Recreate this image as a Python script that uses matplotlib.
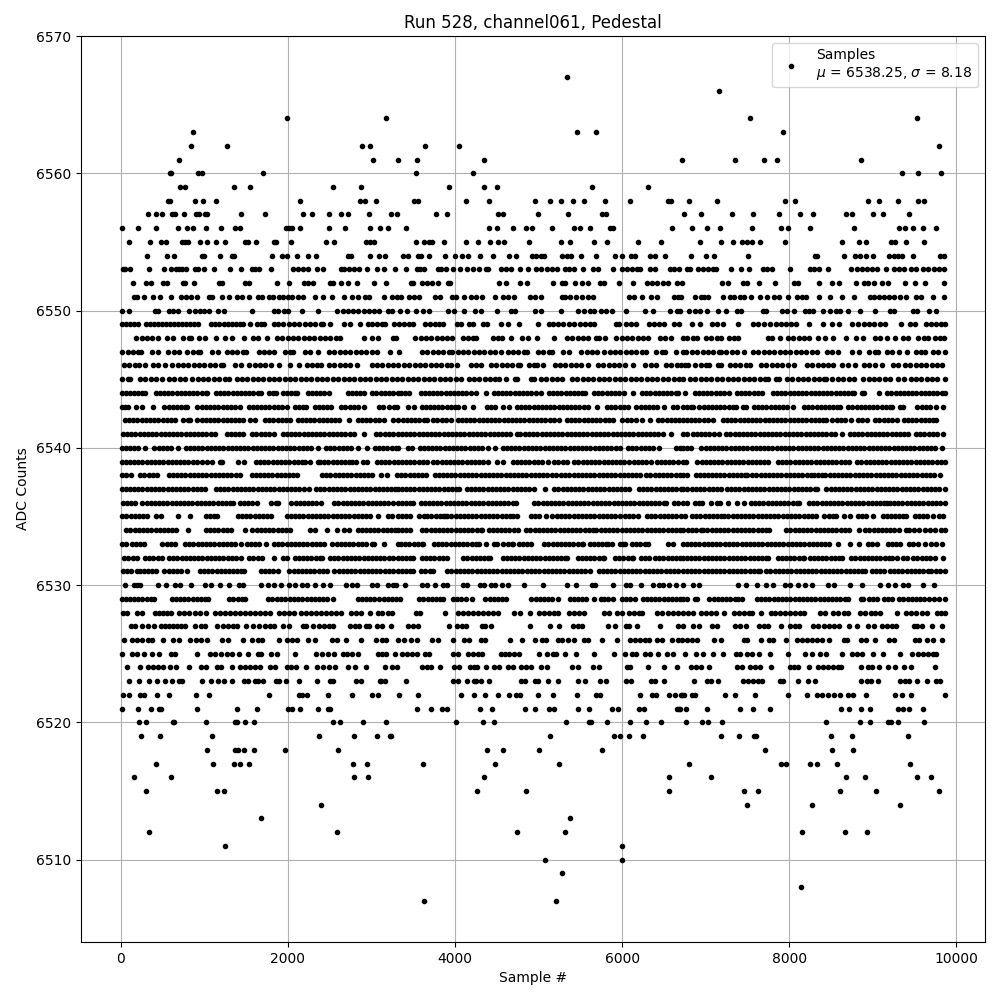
import matplotlib
matplotlib.use('Agg')
import matplotlib.pyplot as plt

# sample numbers, one list per ADC code.
# Codes 6507-6528 and 6549-6567 are mostly single readable dots.
# Codes 6529-6548 are almost solid rows, single samples can't be told apart there:
# those lists are hand estimates, about one value per 50-64 samples along each visible run.
s6567 = [5335]
s6566 = [7165]
s6564 = [1993, 3175, 7525, 9529]
s6563 = [865, 5455, 5683, 7921]
s6562 = [841, 1273, 2881, 2985, 3643, 4051, 9793]
s6561 = [697, 3013, 3319, 3547, 4351, 6721, 7345, 7693, 7849, 8857]
s6560 = [589, 605, 925, 973, 1705, 3535, 4219, 9349, 9541, 9817]
s6559 = [709, 773, 1357, 1549, 2545, 2869, 3931, 4351, 4507, 5635, 6307]
s6558 = [565, 589, 889, 989, 1141, 2149, 2857, 2917, 3049, 3511, 3559, 4135, 4411, 4951, 5131, 5263, 5407, 5539,
         5791, 6091, 6547, 6583, 6805, 7141, 7945, 8065, 8941, 9073, 9301, 9541, 9613]
s6557 = [325, 421, 493, 613, 645, 757, 901, 937, 1009, 1033, 1441, 1729, 2185, 2293, 2497, 2629, 2713, 2965, 3235,
         3307, 3775, 3907, 4519, 4579, 4987, 5347, 5755, 5803, 6745, 6949, 7309, 7561, 7873, 8125, 8281, 8677, 8749,
         9001, 9121, 9433]
s6556 = [13, 205, 421, 685, 793, 865, 1021, 1201, 1369, 1429, 1981, 2017, 2053, 2149, 2497, 2677, 2977, 3097, 3199,
         3415, 4411, 4507, 4699, 4855, 4927, 5155, 5419, 5491, 5611, 5851, 5887, 6595, 6841, 7021, 7177, 7549, 7897,
         7981, 8245, 8773, 9313, 9385, 9481, 9601, 9757]
s6555 = [97, 349, 481, 541, 733, 769, 805, 949, 1033, 1141, 1249, 1489, 1525, 1621, 1837, 1861, 2041, 2461, 2557,
         2929, 2977, 3025, 3535, 3631, 3691, 3727, 3871, 4135, 4279, 4423, 4519, 4591, 4891, 5263, 5371, 5659, 5815,
         6187, 6463, 6937, 7189, 7321, 7429, 7489, 7549, 7645, 7945, 8629, 8833, 8917, 9217, 9265, 9397, 9613]
s6554 = [313, 553, 637, 973, 997, 1189, 1333, 1357, 1813, 1933, 1993, 2113, 2245, 2341, 2713, 2749, 2977, 3085, 3163,
         3379, 3439, 3559, 3595, 3691, 3883, 4003, 4087, 4159, 4303, 4459, 4651, 4735, 4927, 4963, 5023, 5059, 5275,
         5335, 5383, 5503, 5683, 5911, 5995, 6103, 6151, 6331, 6391, 6511, 6829, 7009, 7105, 7501, 8305, 8329, 8653,
         8785, 8845, 8917, 9001, 9193, 9253, 9301, 9349, 9481, 9805, 9853]
s6553 = [25, 49, 109, 337, 517, 601, 661, 697, 733, 781, 889, 925, 997, 1113, 1309, 1441, 1573, 1609, 1657, 1801,
         2065, 2125, 2185, 2245, 2353, 2425, 2629, 2665, 2725, 2785, 2845, 2941, 3061, 3151, 3283, 3415, 3547, 3583,
         3631, 3799, 3835, 3895, 3979, 4063, 4147, 4219, 4291, 4375, 4399, 4555, 4615, 4675, 4783, 4879, 4963, 5023,
         5095, 5155, 5215, 5311, 5359, 5419, 5527, 5647, 5707, 5887, 5995, 6055, 6115, 6175, 6211, 6331, 6391, 6571,
         6619, 6679, 6781, 6817, 6913, 6973, 7033, 7093, 7129, 7297, 7417, 7513, 7681, 7729, 7789, 8005, 8245, 8293,
         8353, 8461, 8737, 8809, 8869, 8929, 8989, 9049, 9157, 9253, 9313, 9373, 9457, 9517, 9601, 9661, 9733, 9793,
         9853]
s6552 = [145, 301, 361, 505, 553, 745, 769, 877, 1177, 1213, 1489, 1537, 1873, 2017, 2197, 2245, 2305, 2509, 2545,
         2629, 2713, 2821, 3025, 3175, 3475, 3499, 3607, 3667, 3727, 3799, 3919, 3943, 4531, 4615, 4783, 4867, 5167,
         5275, 5311, 5431, 5515, 5587, 5731, 5779, 5959, 6127, 6295, 6355, 6415, 6487, 6547, 6655, 6721, 7201, 7261,
         7441, 7489, 7633, 7825, 8053, 8101, 8353, 8509, 8593, 8797, 8893, 8941, 9013, 9109, 9181, 9385, 9505, 9625,
         9853]
s6551 = [157, 193, 277, 385, 469, 601, 721, 781, 841, 913, 1057, 1093, 1213, 1297, 1393, 1453, 1537, 1645, 1693, 1777,
         1825, 1897, 1945, 2005, 2053, 2125, 2185, 2329, 2425, 2533, 2665, 2761, 2833, 2917, 2965, 3151, 3247, 3307,
         3355, 3451, 3511, 3571, 3763, 3823, 3967, 4015, 4111, 4195, 4255, 4327, 4483, 4579, 4639, 4711, 4903, 4951,
         5023, 5275, 5311, 5371, 5443, 5515, 5587, 5647, 6079, 6139, 6235, 6343, 6415, 6619, 6667, 6709, 6877, 6949,
         6985, 7033, 7213, 7285, 7333, 7405, 7453, 7537, 7645, 7729, 7813, 7873, 7981, 8089, 8149, 8197, 8353, 8485,
         8629, 8773, 8965, 9013, 9073, 9133, 9193, 9253, 9325, 9397, 9517, 9577, 9721, 9853]
s6550 = [13, 97, 409, 445, 577, 625, 685, 817, 889, 949, 997, 1057, 1165, 1237, 1573, 1837, 1885, 1957, 2005, 2173,
         2365, 2593, 2653, 2713, 2773, 2833, 2905, 2965, 3025, 3085, 3199, 3247, 3343, 3427, 3535, 3619, 3691, 3919,
         3991, 4111, 4243, 4315, 4507, 4675, 4723, 4951, 5023, 5263, 5467, 5539, 5611, 5659, 5743, 5803, 5875, 6043,
         6271, 6367, 6571, 6655, 6693, 6805, 6877, 6937, 7021, 7153, 7249, 7369, 7417, 7681, 7717, 7909, 7969, 8053,
         8185, 8233, 8281, 8401, 8485, 8557, 8605, 8701, 8845, 9025, 9205, 9253, 9481, 9529, 9673, 9757]
s6549 = [9, 57, 105, 153, 201, 297, 345, 393, 441, 489, 537, 585, 633, 681, 729, 777, 825, 873, 921, 1073, 1129, 1177,
         1237, 1285, 1333, 1381, 1429, 1465, 1545, 1633, 1681, 1713, 1833, 1881, 1945, 2009, 2073, 2137, 2201, 2265,
         2329, 2393, 2425, 2505, 2665, 2737, 2865, 2957, 3001, 3065, 3129, 3157, 3271, 3331, 3391, 3451, 3499, 3643,
         3703, 3763, 3811, 3859, 4027, 4075, 4171, 4219, 4339, 4387, 4555, 4639, 4771, 4987, 5119, 5167, 5227, 5287,
         5359, 5419, 5491, 5551, 5611, 5659, 5923, 5959, 6043, 6103, 6163, 6319, 6379, 6439, 6499, 6619, 6679, 6841,
         6937, 7081, 7141, 7213, 7381, 7561, 7621, 7693, 7765, 7837, 7897, 7957, 8017, 8077, 8233, 8401, 8509, 8593,
         8749, 8821, 8893, 8953, 9013, 9085, 9145, 9337, 9445, 9505, 9637, 9697, 9757, 9817, 9865]
s6548 = [185, 249, 313, 377, 441, 557, 625, 749, 813, 845, 937, 1013, 1137, 1245, 1333, 1469, 1585, 1641, 1749, 1869,
         1933, 1997, 2061, 2125, 2189, 2253, 2317, 2381, 2445, 2509, 2573, 2625, 2905, 3009, 3081, 3257, 3299, 3523,
         3587, 3651, 3715, 3779, 3843, 3899, 3967, 4091, 4155, 4219, 4247, 4451, 4515, 4567, 4675, 4803, 4875, 4983,
         5179, 5339, 5403, 5467, 5531, 5587, 5691, 5727, 5791, 5931, 5995, 6059, 6123, 6187, 6251, 6315, 6451, 6515,
         6579, 6725, 6773, 6853, 6901, 7005, 7069, 7133, 7181, 7277, 7341, 7389, 7745, 7789, 7893, 7985, 8049, 8113,
         8177, 8241, 8345, 8429, 8529, 8677, 8797, 8881, 9025, 9081, 9173, 9261, 9365, 9421, 9545, 9609, 9661, 9745,
         9809, 9853]
s6547 = [17, 81, 145, 209, 245, 377, 445, 569, 633, 693, 797, 861, 925, 953, 1089, 1161, 1265, 1329, 1393, 1457, 1493,
         1649, 1713, 1777, 1833, 1961, 2025, 2065, 2209, 2265, 2365, 2489, 2553, 2617, 2681, 2745, 2809, 2873, 2937,
         3001, 3065, 3217, 3331, 3603, 3667, 3731, 3795, 3859, 3923, 3967, 4031, 4095, 4159, 4223, 4287, 4351, 4415,
         4479, 4547, 4631, 4695, 4759, 4823, 4859, 4991, 5055, 5119, 5155, 5291, 5367, 5511, 5575, 5639, 5703, 5787,
         5851, 5915, 5979, 6043, 6107, 6171, 6239, 6287, 6411, 6475, 6507, 6643, 6725, 6761, 6837, 6901, 6965, 7029,
         7093, 7157, 7181, 7245, 7309, 7373, 7453, 7565, 7629, 7693, 7757, 7821, 7885, 7949, 8013, 8077, 8141, 8205,
         8269, 8333, 8453, 8517, 8581, 8749, 8833, 8957, 9021, 9061, 9165, 9229, 9317, 9413, 9517, 9581, 9629, 9717,
         9781, 9869]
s6546 = [37, 101, 165, 213, 293, 385, 449, 525, 617, 681, 745, 809, 873, 937, 1001, 1065, 1129, 1193, 1225, 1369, 1441,
         1537, 1601, 1665, 1729, 1793, 1897, 2025, 2129, 2225, 2289, 2353, 2401, 2489, 2553, 2617, 2681, 2745, 2825,
         3001, 3065, 3129, 3193, 3257, 3323, 3387, 3451, 3515, 3579, 3643, 3707, 3771, 3835, 3899, 3947, 4019, 4191,
         4255, 4315, 4431, 4495, 4559, 4623, 4687, 4751, 4779, 4883, 4947, 4979, 5047, 5191, 5255, 5319, 5383, 5447,
         5511, 5587, 5711, 5775, 5839, 5903, 5967, 6031, 6127, 6279, 6343, 6407, 6523, 6587, 6651, 6705, 6757, 6789,
         6877, 6941, 7005, 7037, 7149, 7189, 7285, 7349, 7413, 7477, 7525, 7661, 7725, 7789, 7853, 7917, 7981, 8061,
         8213, 8277, 8341, 8405, 8469, 8525, 8637, 8701, 8789, 8893, 8957, 9021, 9113, 9237, 9301, 9385, 9449, 9513,
         9577, 9641, 9705, 9769, 9829]
s6545 = [17, 81, 113, 229, 293, 357, 421, 493, 577, 641, 705, 773, 857, 921, 985, 1049, 1113, 1177, 1241, 1293, 1385,
         1449, 1513, 1577, 1641, 1705, 1769, 1833, 1897, 1961, 2025, 2089, 2153, 2217, 2281, 2345, 2409, 2473, 2537,
         2601, 2665, 2729, 2793, 2857, 2921, 2985, 3049, 3113, 3177, 3241, 3305, 3369, 3433, 3497, 3561, 3625, 3689,
         3753, 3817, 3881, 3945, 4009, 4067, 4163, 4227, 4291, 4355, 4419, 4483, 4527, 4615, 4715, 4739, 4911, 4939,
         5027, 5091, 5155, 5219, 5283, 5399, 5463, 5527, 5591, 5655, 5719, 5783, 5847, 5911, 5975, 6039, 6103, 6167,
         6231, 6295, 6359, 6423, 6487, 6551, 6615, 6679, 6725, 6813, 6877, 6941, 7005, 7069, 7133, 7197, 7261, 7325,
         7389, 7453, 7517, 7581, 7645, 7709, 7749, 7837, 7881, 7973, 8037, 8101, 8165, 8229, 8293, 8357, 8421, 8441,
         8513, 8585, 8649, 8713, 8773, 8885, 8949, 9013, 9077, 9141, 9205, 9301, 9377, 9453, 9517, 9581, 9645, 9709,
         9773, 9861]
s6544 = [9, 59, 109, 159, 209, 259, 285, 417, 467, 517, 567, 617, 667, 717, 767, 817, 867, 917, 967, 1017, 1033, 1137,
         1187, 1237, 1287, 1337, 1387, 1437, 1487, 1537, 1587, 1637, 1681, 1777, 1827, 1853, 1937, 1987, 2037, 2087,
         2113, 2237, 2287, 2337, 2387, 2437, 2493, 2717, 2767, 2817, 2867, 2913, 3009, 3059, 3109, 3159, 3209, 3259,
         3313, 3355, 3405, 3447, 3587, 3637, 3687, 3737, 3787, 3837, 3887, 3937, 3987, 4037, 4087, 4137, 4187, 4247,
         4367, 4463, 4513, 4563, 4613, 4663, 4713, 4763, 4813, 4863, 4913, 4963, 5027, 5123, 5173, 5223, 5273, 5323,
         5373, 5423, 5473, 5523, 5555, 5663, 5713, 5763, 5813, 5863, 5913, 5963, 6019, 6127, 6239, 6289, 6339, 6389,
         6439, 6489, 6539, 6589, 6639, 6667, 6757, 6869, 6919, 6969, 7019, 7069, 7119, 7169, 7219, 7277, 7373, 7423,
         7473, 7523, 7573, 7623, 7669, 7805, 7855, 7905, 7955, 8005, 8055, 8105, 8155, 8205, 8255, 8305, 8355, 8405,
         8455, 8505, 8555, 8605, 8655, 8705, 8755, 8781, 8865, 8893, 9073, 9173, 9223, 9273, 9323, 9373, 9423, 9473,
         9523, 9573, 9623, 9673, 9723, 9773, 9823, 9861]
s6543 = [9, 49, 81, 177, 253, 385, 521, 571, 621, 671, 721, 771, 793, 917, 967, 1017, 1067, 1117, 1167, 1217, 1267,
         1317, 1367, 1425, 1529, 1579, 1629, 1679, 1729, 1779, 1829, 1879, 1929, 1993, 2085, 2135, 2185, 2213, 2321,
         2371, 2421, 2471, 2521, 2637, 2687, 2737, 2787, 2837, 2913, 3089, 3139, 3213, 3265, 3303, 3435, 3507, 3599,
         3649, 3699, 3749, 3799, 3849, 3899, 3949, 3999, 4035, 4111, 4211, 4379, 4429, 4475, 4571, 4643, 4739, 4789,
         4839, 4889, 4939, 4989, 5039, 5089, 5139, 5189, 5239, 5289, 5339, 5389, 5439, 5489, 5539, 5587, 5703, 5819,
         5869, 5919, 5969, 6019, 6075, 6171, 6221, 6271, 6321, 6371, 6421, 6499, 6611, 6661, 6725, 6775, 6825, 6853,
         6925, 6975, 7025, 7075, 7125, 7175, 7225, 7275, 7325, 7361, 7445, 7477, 7577, 7627, 7677, 7727, 7777, 7827,
         7877, 7927, 7977, 8041, 8177, 8227, 8277, 8327, 8377, 8427, 8477, 8527, 8577, 8613, 8705, 8755, 8805, 8855,
         8905, 8955, 9005, 9055, 9105, 9155, 9205, 9233, 9325, 9365, 9533, 9583, 9633, 9683, 9761, 9841]
s6542 = [49, 99, 149, 199, 249, 299, 349, 399, 449, 499, 549, 599, 653, 749, 799, 833, 917, 967, 1017, 1067, 1117, 1167,
         1217, 1267, 1317, 1367, 1417, 1467, 1541, 1609, 1725, 1775, 1825, 1875, 1925, 1975, 2025, 2117, 2167, 2217,
         2267, 2317, 2367, 2417, 2467, 2517, 2567, 2613, 2725, 2837, 2887, 2937, 2987, 3037, 3087, 3153, 3257, 3313,
         3373, 3423, 3473, 3523, 3573, 3623, 3659, 3739, 3789, 3839, 3889, 3955, 4031, 4081, 4131, 4181, 4231, 4281,
         4331, 4381, 4431, 4481, 4531, 4581, 4631, 4681, 4731, 4781, 4831, 4881, 4931, 4981, 5031, 5081, 5131, 5181,
         5247, 5339, 5389, 5439, 5489, 5539, 5589, 5639, 5689, 5739, 5789, 5839, 5887, 6003, 6053, 6103, 6167, 6239,
         6339, 6431, 6481, 6531, 6581, 6631, 6681, 6725, 6775, 6825, 6875, 6925, 6975, 7025, 7093, 7205, 7255, 7305,
         7355, 7405, 7455, 7505, 7555, 7605, 7655, 7705, 7755, 7805, 7855, 7905, 7955, 8005, 8055, 8105, 8155, 8205,
         8255, 8305, 8355, 8405, 8441, 8517, 8567, 8617, 8667, 8741, 8825, 8875, 8929, 9029, 9079, 9129, 9179, 9229,
         9293, 9373, 9423, 9473, 9523, 9573, 9623, 9673, 9723, 9761]
s6541 = [25, 75, 125, 175, 225, 275, 325, 375, 425, 475, 525, 575, 625, 675, 725, 775, 825, 875, 925, 975, 1025, 1075,
         1125, 1265, 1315, 1365, 1415, 1465, 1573, 1623, 1673, 1723, 1773, 1833, 1937, 1987, 2037, 2087, 2137, 2187,
         2237, 2287, 2337, 2387, 2437, 2487, 2537, 2587, 2637, 2687, 2737, 2787, 2913, 3057, 3107, 3157, 3207, 3257,
         3313, 3363, 3413, 3463, 3513, 3563, 3613, 3663, 3713, 3763, 3813, 3863, 3913, 3963, 4013, 4063, 4113, 4163,
         4213, 4263, 4313, 4363, 4413, 4463, 4513, 4563, 4613, 4653, 4739, 4779, 4835, 4885, 4935, 4985, 5035, 5085,
         5135, 5185, 5235, 5285, 5335, 5385, 5435, 5485, 5535, 5585, 5635, 5685, 5735, 5785, 5835, 5885, 5935, 5985,
         6035, 6085, 6135, 6185, 6235, 6285, 6335, 6385, 6435, 6485, 6587, 6725, 6773, 6845, 6895, 6945, 6995, 7045,
         7101, 7165, 7245, 7295, 7345, 7395, 7445, 7495, 7545, 7595, 7645, 7695, 7745, 7795, 7845, 7895, 7945, 7995,
         8045, 8095, 8145, 8195, 8245, 8295, 8345, 8395, 8445, 8495, 8545, 8629, 8725, 8775, 8825, 8875, 8925, 8975,
         9025, 9075, 9125, 9175, 9225, 9275, 9325, 9375, 9421, 9517, 9567, 9617, 9667, 9717, 9767, 9845]
s6540 = [9, 59, 109, 159, 209, 285, 401, 451, 501, 551, 601, 681, 777, 827, 877, 927, 977, 1027, 1077, 1127, 1177, 1227,
         1277, 1327, 1377, 1427, 1477, 1527, 1577, 1627, 1677, 1727, 1777, 1827, 1877, 1927, 1977, 2027, 2077, 2127,
         2177, 2227, 2277, 2361, 2457, 2507, 2557, 2607, 2657, 2707, 2757, 2841, 2945, 3041, 3091, 3141, 3191, 3241,
         3291, 3313, 3431, 3481, 3575, 3625, 3675, 3725, 3775, 3825, 3875, 3925, 3975, 4025, 4075, 4125, 4175, 4225,
         4275, 4325, 4395, 4475, 4571, 4621, 4671, 4721, 4771, 4821, 4871, 4921, 4971, 5021, 5071, 5121, 5171, 5221,
         5271, 5321, 5371, 5421, 5471, 5521, 5571, 5621, 5671, 5721, 5771, 5821, 5871, 5921, 5975, 6071, 6121, 6171,
         6221, 6271, 6321, 6371, 6443, 6643, 6693, 6725, 6775, 6825, 6949, 6999, 7049, 7099, 7149, 7199, 7249, 7299,
         7349, 7399, 7449, 7499, 7549, 7599, 7649, 7699, 7749, 7799, 7849, 7899, 7949, 7999, 8049, 8099, 8149, 8199,
         8249, 8299, 8349, 8399, 8449, 8499, 8549, 8599, 8649, 8699, 8749, 8799, 8849, 8899, 8949, 8999, 9049, 9099,
         9149, 9199, 9249, 9299, 9349, 9399, 9449, 9499, 9549, 9599, 9649, 9699, 9749, 9829]
s6539 = [9, 59, 109, 159, 209, 259, 309, 359, 409, 459, 509, 559, 609, 659, 709, 759, 809, 859, 909, 969, 1029, 1089,
         1185, 1213, 1397, 1469, 1617, 1667, 1717, 1767, 1817, 1867, 1917, 1967, 2017, 2067, 2117, 2167, 2201, 2265,
         2355, 2385, 2435, 2485, 2535, 2585, 2635, 2685, 2735, 2761, 2817, 2895, 2945, 3065, 3115, 3165, 3215, 3265,
         3313, 3363, 3413, 3463, 3513, 3563, 3613, 3659, 3739, 3789, 3839, 3889, 3939, 3989, 4039, 4089, 4139, 4189,
         4239, 4289, 4339, 4389, 4507, 4571, 4691, 4741, 4791, 4841, 4891, 4941, 4991, 5041, 5107, 5187, 5237, 5287,
         5337, 5427, 5477, 5527, 5577, 5627, 5677, 5727, 5777, 5827, 5877, 5927, 5977, 6027, 6077, 6147, 6187, 6237,
         6287, 6345, 6413, 6463, 6513, 6563, 6613, 6663, 6725, 6769, 6901, 6951, 7001, 7049, 7101, 7151, 7201, 7251,
         7301, 7351, 7401, 7451, 7501, 7551, 7601, 7651, 7701, 7749, 7865, 7915, 7965, 8015, 8065, 8115, 8165, 8215,
         8265, 8315, 8365, 8415, 8465, 8515, 8565, 8615, 8665, 8717, 8813, 8863, 8913, 8963, 9013, 9063, 9113, 9163,
         9213, 9263, 9313, 9363, 9413, 9463, 9513, 9563, 9613, 9663, 9713, 9763, 9813, 9861]
s6538 = [17, 67, 117, 233, 283, 333, 383, 433, 573, 623, 673, 723, 773, 823, 873, 923, 973, 1023, 1073, 1123, 1173,
         1223, 1273, 1323, 1373, 1429, 1565, 1615, 1665, 1715, 1765, 1815, 1865, 1915, 1965, 2015, 2065, 2113, 2409,
         2459, 2509, 2559, 2609, 2659, 2709, 2759, 2809, 2859, 2909, 2959, 3009, 3113, 3185, 3305, 3355, 3405, 3455,
         3505, 3555, 3605, 3651, 3755, 3805, 3855, 3905, 3955, 4005, 4055, 4105, 4155, 4205, 4255, 4305, 4355, 4405,
         4455, 4505, 4555, 4605, 4655, 4705, 4755, 4805, 4855, 4905, 4955, 5005, 5055, 5105, 5155, 5205, 5269, 5319,
         5369, 5419, 5469, 5519, 5569, 5619, 5669, 5719, 5769, 5819, 5869, 5919, 5969, 6019, 6069, 6119, 6169, 6219,
         6289, 6339, 6389, 6439, 6489, 6539, 6589, 6639, 6689, 6725, 6771, 6885, 6935, 6985, 7029, 7077, 7121, 7173,
         7223, 7273, 7323, 7373, 7423, 7473, 7493, 7557, 7607, 7657, 7707, 7757, 7807, 7857, 7907, 7957, 8007, 8057,
         8107, 8157, 8207, 8257, 8301, 8341, 8389, 8433, 8483, 8533, 8583, 8633, 8683, 8733, 8783, 8833, 8883, 8933,
         8983, 9033, 9083, 9133, 9183, 9233, 9283, 9333, 9383, 9433, 9483, 9533, 9583, 9633, 9683, 9733, 9805]
s6537 = [9, 59, 109, 159, 209, 259, 309, 359, 409, 459, 509, 559, 609, 659, 709, 759, 809, 859, 909, 959, 1009, 1137,
         1187, 1237, 1287, 1337, 1387, 1437, 1487, 1537, 1587, 1637, 1687, 1737, 1787, 1837, 1887, 1937, 1987, 2037,
         2087, 2137, 2187, 2253, 2337, 2387, 2437, 2487, 2537, 2587, 2637, 2687, 2737, 2787, 2837, 2887, 2937, 2987,
         3037, 3087, 3137, 3187, 3237, 3287, 3313, 3363, 3413, 3463, 3513, 3563, 3613, 3663, 3713, 3763, 3813, 3863,
         3913, 3963, 4013, 4047, 4139, 4189, 4239, 4289, 4339, 4389, 4439, 4489, 4539, 4589, 4639, 4689, 4739, 4789,
         4839, 4889, 4945, 5081, 5187, 5237, 5287, 5337, 5387, 5437, 5487, 5537, 5587, 5637, 5687, 5737, 5787, 5837,
         5887, 5937, 5987, 6037, 6087, 6200, 6250, 6300, 6350, 6400, 6450, 6500, 6550, 6600, 6650, 6700, 6725, 6775,
         6837, 6885, 6935, 6985, 7035, 7085, 7135, 7185, 7253, 7303, 7353, 7403, 7453, 7503, 7553, 7603, 7653, 7703,
         7753, 7803, 7853, 7903, 7953, 8003, 8053, 8103, 8153, 8203, 8253, 8303, 8333, 8445, 8495, 8545, 8595, 8645,
         8695, 8745, 8795, 8845, 8895, 8945, 8995, 9045, 9095, 9145, 9195, 9245, 9295, 9345, 9395, 9445, 9495, 9545,
         9595, 9645, 9695, 9745, 9795, 9861]
s6536 = [25, 75, 125, 169, 257, 307, 357, 407, 457, 507, 557, 607, 657, 707, 757, 807, 857, 907, 957, 1007, 1057, 1107,
         1157, 1207, 1257, 1307, 1345, 1425, 1475, 1525, 1575, 1625, 1793, 1861, 1881, 2041, 2091, 2141, 2191, 2241,
         2291, 2341, 2391, 2553, 2603, 2653, 2703, 2753, 2803, 2853, 2903, 2953, 3003, 3053, 3103, 3153, 3203, 3253,
         3313, 3363, 3413, 3463, 3499, 3587, 3637, 3687, 3737, 3787, 3837, 3887, 3937, 3987, 4037, 4087, 4137, 4187,
         4239, 4289, 4339, 4389, 4439, 4489, 4539, 4589, 4639, 4689, 4731, 4947, 4997, 5047, 5097, 5147, 5197, 5247,
         5297, 5347, 5397, 5447, 5497, 5547, 5597, 5647, 5697, 5747, 5797, 5847, 5897, 5947, 5997, 6047, 6097, 6147,
         6197, 6247, 6297, 6347, 6397, 6447, 6497, 6527, 6623, 6673, 6725, 6773, 6877, 6921, 6957, 7069, 7133, 7173,
         7269, 7373, 7461, 7541, 7591, 7641, 7691, 7741, 7791, 7841, 7891, 7941, 7991, 8041, 8091, 8117, 8237, 8287,
         8337, 8387, 8437, 8487, 8537, 8587, 8637, 8687, 8737, 8787, 8837, 8887, 8937, 8987, 9037, 9087, 9137, 9173,
         9205, 9255, 9305, 9355, 9405, 9455, 9505, 9555, 9605, 9655, 9705, 9755, 9805, 9861]
s6535 = [17, 67, 117, 167, 217, 267, 317, 417, 481, 689, 833, 1017, 1067, 1117, 1145, 1401, 1451, 1501, 1551, 1601,
         1651, 1701, 1751, 1801, 1985, 2035, 2085, 2135, 2185, 2235, 2285, 2335, 2385, 2435, 2485, 2535, 2585, 2635,
         2685, 2735, 2785, 2835, 2885, 2935, 2985, 3073, 3193, 3243, 3313, 3363, 3413, 3463, 3571, 3627, 3667, 3717,
         3767, 3819, 3859, 3881, 3907, 3957, 4007, 4057, 4107, 4157, 4207, 4255, 4307, 4357, 4407, 4457, 4507, 4557,
         4607, 4659, 4699, 4739, 4915, 4955, 5007, 5091, 5155, 5219, 5269, 5319, 5369, 5419, 5469, 5519, 5569, 5619,
         5669, 5719, 5769, 5819, 5869, 5919, 5969, 6035, 6085, 6135, 6187, 6299, 6349, 6399, 6449, 6499, 6549, 6599,
         6649, 6699, 6757, 6837, 6887, 6937, 6987, 7037, 7087, 7137, 7187, 7221, 7271, 7321, 7371, 7421, 7471, 7521,
         7571, 7621, 7671, 7721, 7771, 7821, 7871, 7921, 7971, 8021, 8071, 8121, 8171, 8221, 8271, 8321, 8421, 8471,
         8521, 8565, 8657, 8725, 8817, 8867, 8917, 8997, 9117, 9167, 9217, 9267, 9317, 9361, 9397, 9501, 9551, 9601,
         9653, 9725, 9789, 9845]
s6534 = [65, 115, 165, 215, 265, 315, 365, 415, 465, 515, 565, 615, 665, 801, 1017, 1067, 1117, 1167, 1217, 1267, 1317,
         1489, 1573, 1627, 1677, 1727, 1777, 1827, 1877, 1927, 1977, 2025, 2265, 2329, 2465, 2593, 2665, 2729, 2833,
         2883, 2933, 2983, 3033, 3083, 3133, 3183, 3233, 3283, 3313, 3363, 3413, 3463, 3607, 3657, 3707, 3757, 3807,
         3857, 3907, 3957, 4007, 4057, 4107, 4157, 4207, 4257, 4307, 4327, 4403, 4451, 4501, 4551, 4601, 4651, 4701,
         4749, 4851, 4901, 4951, 5001, 5051, 5101, 5151, 5201, 5251, 5301, 5351, 5401, 5451, 5501, 5551, 5601, 5651,
         5693, 5743, 5793, 5843, 5893, 5943, 5993, 6043, 6093, 6143, 6193, 6243, 6293, 6343, 6393, 6443, 6493, 6543,
         6593, 6643, 6693, 6733, 6789, 6839, 6889, 6939, 6965, 7021, 7071, 7121, 7171, 7221, 7271, 7321, 7371, 7421,
         7471, 7521, 7571, 7621, 7671, 7721, 7757, 7965, 8015, 8065, 8115, 8165, 8215, 8265, 8315, 8365, 8415, 8465,
         8515, 8565, 8615, 8665, 8717, 8829, 8909, 8959, 9009, 9059, 9109, 9159, 9209, 9259, 9317, 9397, 9429, 9493,
         9557, 9621, 9685, 9749, 9813, 9861]
s6533 = [9, 65, 129, 179, 229, 281, 497, 547, 597, 647, 769, 819, 869, 919, 969, 1019, 1069, 1119, 1169, 1219, 1269,
         1319, 1369, 1433, 1505, 1555, 1605, 1655, 1733, 1833, 1883, 1933, 1983, 2033, 2083, 2133, 2183, 2233, 2283,
         2333, 2383, 2433, 2533, 2583, 2633, 2683, 2733, 2783, 2833, 2883, 2933, 3009, 3033, 3145, 3313, 3353, 3403,
         3453, 3503, 3553, 3603, 3619, 3747, 3797, 3847, 3897, 3947, 3997, 4047, 4097, 4147, 4197, 4247, 4283, 4371,
         4467, 4497, 4579, 4629, 4679, 4699, 4763, 4813, 4863, 4909, 5067, 5117, 5167, 5217, 5267, 5317, 5367, 5417,
         5467, 5517, 5533, 5611, 5661, 5711, 5761, 5811, 5835, 5883, 5971, 6011, 6035, 6119, 6169, 6219, 6269, 6315,
         6547, 6605, 6725, 6775, 6825, 6875, 6925, 6975, 7025, 7075, 7125, 7175, 7229, 7279, 7329, 7379, 7429, 7479,
         7529, 7579, 7629, 7679, 7729, 7781, 7831, 7881, 7931, 7981, 8031, 8081, 8131, 8181, 8231, 8281, 8331, 8381,
         8431, 8481, 8581, 8733, 8829, 8941, 8991, 9045, 9181, 9231, 9281, 9331, 9437, 9487, 9541, 9629, 9693, 9757,
         9829]
s6532 = [41, 91, 141, 193, 289, 339, 389, 439, 489, 577, 627, 677, 727, 777, 827, 877, 927, 977, 1027, 1077, 1127, 1177,
         1227, 1277, 1327, 1377, 1441, 1537, 1587, 1637, 1687, 1833, 1937, 1993, 2081, 2131, 2181, 2231, 2281, 2331,
         2381, 2413, 2505, 2555, 2605, 2655, 2705, 2755, 2805, 2855, 2905, 2955, 3005, 3055, 3105, 3155, 3205, 3255,
         3313, 3363, 3413, 3463, 3499, 3603, 3653, 3703, 3753, 3803, 3853, 3899, 4099, 4149, 4199, 4249, 4299, 4349,
         4399, 4419, 4571, 4621, 4671, 4721, 4771, 4821, 4871, 4921, 4971, 5021, 5071, 5121, 5171, 5221, 5271, 5321,
         5339, 5467, 5517, 5567, 5617, 5667, 5717, 5767, 5787, 5915, 5965, 6015, 6065, 6115, 6131, 6227, 6277, 6327,
         6393, 6443, 6493, 6543, 6593, 6643, 6693, 6725, 6775, 6825, 6875, 6925, 6975, 7025, 7075, 7125, 7175, 7225,
         7275, 7325, 7375, 7425, 7475, 7525, 7575, 7625, 7675, 7725, 7745, 7861, 7911, 7961, 8011, 8061, 8111, 8161,
         8173, 8245, 8295, 8345, 8395, 8445, 8495, 8545, 8595, 8629, 8741, 8791, 8841, 8891, 8941, 8991, 9041, 9091,
         9141, 9191, 9229, 9285, 9365, 9415, 9477, 9533, 9583, 9633, 9683, 9749, 9837]
s6531 = [25, 75, 125, 193, 225, 275, 325, 375, 425, 521, 571, 621, 671, 721, 793, 945, 995, 1045, 1095, 1145, 1195,
         1245, 1295, 1345, 1395, 1441, 1477, 1677, 1727, 1777, 1827, 1883, 2017, 2067, 2117, 2167, 2217, 2267, 2317,
         2367, 2417, 2473, 2557, 2607, 2657, 2707, 2757, 2807, 2857, 2907, 2957, 3007, 3057, 3107, 3157, 3207, 3257,
         3313, 3363, 3413, 3463, 3499, 3595, 3645, 3695, 3731, 3907, 3957, 4007, 4057, 4107, 4157, 4207, 4257, 4307,
         4357, 4407, 4457, 4507, 4557, 4607, 4657, 4707, 4757, 4807, 4857, 4907, 4957, 5007, 5059, 5109, 5159, 5209,
         5259, 5309, 5359, 5409, 5459, 5509, 5559, 5619, 5719, 5769, 5819, 5869, 5919, 5969, 6019, 6069, 6119, 6169,
         6219, 6269, 6319, 6369, 6419, 6469, 6519, 6569, 6619, 6669, 6725, 6775, 6825, 6875, 6925, 6975, 7025, 7075,
         7125, 7175, 7225, 7275, 7325, 7375, 7425, 7475, 7525, 7575, 7625, 7653, 7725, 7775, 7825, 7875, 7925, 7975,
         8025, 8075, 8125, 8175, 8225, 8275, 8325, 8375, 8425, 8475, 8525, 8575, 8625, 8675, 8725, 8775, 8825, 8875,
         8909, 8989, 9039, 9089, 9139, 9205, 9255, 9305, 9355, 9405, 9455, 9505, 9555, 9605, 9655, 9693, 9757, 9807,
         9861]
s6530 = [49, 161, 193, 233, 449, 537, 649, 713, 841, 1009, 1073, 1189, 1293, 1417, 1465, 1677, 1765, 1833, 1917, 2009,
         2089, 2169, 2225, 2329, 2421, 2505, 2697, 2761, 2829, 3005, 3069, 3193, 3259, 3299, 3403, 3603, 3667, 3763,
         3859, 3907, 4091, 4139, 4297, 4351, 4431, 4483, 4563, 4635, 4823, 5047, 5343, 5451, 5639, 5671, 5891, 6051,
         6093, 6231, 6369, 6441, 6493, 6557, 6649, 6725, 6853, 6917, 7389, 7481, 7613, 7717, 7809, 7949, 8005, 8109,
         8193, 8277, 8469, 8541, 8725, 8869, 9081, 9185, 9269, 9361, 9425, 9597, 9733]
s6529 = [9, 59, 109, 159, 209, 259, 309, 359, 401, 609, 659, 709, 759, 809, 859, 909, 959, 1009, 1041, 1297, 1347, 1397,
         1447, 1489, 1765, 1815, 1865, 1915, 1965, 2025, 2073, 2123, 2173, 2223, 2273, 2323, 2373, 2423, 2473, 2537,
         2833, 2883, 2933, 2983, 3033, 3093, 3145, 3195, 3245, 3295, 3345, 3571, 3621, 3671, 3721, 3771, 3821, 3859,
         3977, 4027, 4077, 4127, 4199, 4363, 4413, 4463, 4513, 4563, 4613, 4915, 4965, 5015, 5065, 5115, 5165, 5227,
         5371, 5421, 5471, 5521, 5571, 5659, 5743, 5779, 5835, 5885, 5995, 6045, 6095, 6157, 6245, 6295, 6345, 6395,
         6445, 6495, 6545, 6595, 6645, 6693, 6725, 6775, 6869, 6901, 7045, 7095, 7145, 7195, 7245, 7295, 7345, 7389,
         7437, 7613, 7663, 7713, 7763, 7813, 7863, 7913, 7963, 8013, 8063, 8113, 8163, 8213, 8263, 8313, 8363, 8413,
         8463, 8513, 8563, 8613, 8663, 8709, 8853, 8885, 8949, 8997, 9053, 9133, 9183, 9233, 9317, 9367, 9417, 9467,
         9517, 9567, 9617, 9667, 9733, 9789, 9861]
s6528 = [25, 73, 193, 253, 409, 457, 505, 553, 601, 697, 757, 817, 889, 949, 1021, 1129, 1189, 1249, 1309, 1369, 1429,
         1489, 1549, 1609, 1669, 1729, 1789, 1897, 1957, 2017, 2077, 2161, 2221, 2281, 2341, 2401, 2461, 2521, 2581,
         2629, 2749, 2809, 2869, 2977, 3073, 3127, 3199, 3247, 3535, 3583, 3883, 4039, 4099, 4159, 4219, 4279, 4339,
         4399, 4459, 4519, 4711, 4783, 4903, 4999, 5059, 5119, 5179, 5227, 5359, 5419, 5479, 5539, 5779, 5839, 5935,
         5995, 6079, 6139, 6199, 6235, 6415, 6475, 6547, 6607, 6667, 6733, 6793, 6853, 6949, 7009, 7069, 7129, 7225,
         7333, 7393, 7453, 7513, 7549, 7665, 7777, 7825, 7885, 7945, 8005, 8065, 8125, 8173, 8365, 8425, 8521, 8581,
         8653, 8701, 8845, 8905, 8977, 9025, 9085, 9285, 9397, 9457, 9517, 9589, 9649, 9769, 9817, 9865]
s6527 = [121, 169, 253, 325, 397, 481, 529, 577, 625, 673, 721, 769, 889, 961, 1009, 1153, 1225, 1285, 1345, 1393, 1501,
         1585, 1657, 1729, 1789, 1837, 1945, 2017, 2185, 2221, 2305, 2377, 2437, 2497, 2545, 2737, 2797, 2845, 2929,
         2965, 3061, 3127, 3235, 3439, 3499, 3559, 3931, 4027, 4087, 4135, 4327, 4363, 4435, 4903, 5131, 5239, 5407,
         5467, 5515, 5827, 5911, 6043, 6079, 6175, 6451, 6667, 6733, 6853, 6925, 7081, 7141, 7345, 7405, 7477, 7633,
         7693, 7741, 7897, 8005, 8065, 8113, 8281, 8341, 8413, 8473, 8533, 8593, 8713, 8809, 8941, 9013, 9109, 9169,
         9229, 9277, 9493, 9529, 9589, 9709, 9829]
s6526 = [37, 133, 193, 253, 325, 373, 505, 625, 697, 829, 901, 961, 1033, 1213, 1285, 1465, 1573, 1645, 1693, 1897,
         1993, 2053, 2113, 2245, 2329, 2533, 2593, 2693, 2869, 3049, 3127, 3175, 3319, 3391, 3475, 3547, 3727, 3799,
         3979, 4111, 4171, 4315, 4363, 4663, 4807, 4951, 5035, 5083, 5227, 5275, 5347, 5419, 5539, 5587, 5755, 5935,
         6091, 6151, 6211, 6271, 6319, 6415, 6475, 6595, 6667, 6721, 6781, 6841, 6901, 7105, 7189, 7453, 7489, 7657,
         7753, 7801, 7957, 8089, 8149, 8209, 8269, 8329, 8389, 8473, 8653, 8689, 8857, 8917, 9025, 9193, 9253, 9505,
         9553, 9649, 9721, 9829]
s6525 = [13, 133, 193, 277, 373, 457, 601, 649, 913, 1069, 1129, 1201, 1273, 1333, 1417, 1525, 1645, 1681, 1801, 1873,
         2089, 2341, 2413, 2485, 2557, 2653, 2701, 2761, 2833, 3073, 3127, 3175, 3283, 3367, 3427, 3487, 3547, 3643,
         3691, 3979, 4039, 4159, 4219, 4279, 4327, 4555, 4603, 4651, 4711, 4771, 4999, 5095, 5167, 5203, 5311, 5443,
         5659, 5899, 6031, 6115, 6163, 6271, 6331, 6427, 6535, 6607, 6757, 6889, 6973, 7093, 7213, 7357, 7405, 7489,
         7549, 7633, 7765, 7981, 8185, 8269, 8365, 8437, 8629, 8749, 8809, 8869, 9001, 9121, 9325, 9469, 9541, 9601,
         9661, 9721, 9757]
s6524 = [73, 229, 325, 385, 445, 505, 589, 661, 817, 961, 1021, 1153, 1201, 1333, 1429, 1489, 1549, 1609, 1669, 1789,
         1849, 1993, 2041, 2101, 2221, 2353, 2425, 2497, 2569, 2713, 2797, 2929, 3163, 3247, 3307, 3607, 3667, 3715,
         3823, 3991, 4051, 4183, 4231, 4267, 4375, 4471, 4531, 4639, 4699, 4795, 4855, 4915, 5023, 5095, 5395, 5467,
         5647, 5719, 6055, 6091, 6307, 6499, 6655, 6825, 6889, 6949, 7045, 7369, 7429, 7525, 7585, 7645, 7777, 8005,
         8053, 8101, 8233, 8341, 8401, 8461, 8521, 8581, 8617, 8857, 8941, 8989, 9073, 9181, 9265, 9373, 9457, 9745]
s6523 = [97, 217, 337, 433, 529, 613, 697, 733, 973, 1081, 1165, 1237, 1333, 1477, 1525, 1609, 1645, 1705, 1861, 1897,
         1981, 2137, 2353, 2509, 2545, 2809, 2869, 3097, 3115, 3163, 3415, 3979, 4039, 4147, 4231, 4255, 4315, 4411,
         4795, 4843, 4951, 4987, 5107, 5227, 5467, 5551, 5731, 5803, 6043, 6103, 6343, 6391, 6499, 6865, 7021, 7069,
         7153, 7441, 7501, 7561, 7621, 7669, 7885, 7921, 8101, 8221, 8305, 8857, 8929, 8977, 9061, 9325, 9385, 9433,
         9529, 9649, 9757, 9805]
s6522 = [25, 97, 229, 277, 433, 577, 901, 1057, 1777, 2137, 2173, 2233, 2485, 2761, 3001, 3073, 3331, 3559, 4075, 4231,
         4363, 4519, 4651, 4735, 4783, 4987, 5167, 5455, 5683, 5731, 6211, 6355, 6403, 6559, 6631, 6699, 6721, 6745,
         6841, 6877, 7237, 7345, 7585, 7981, 8209, 8329, 8389, 8461, 8533, 8605, 8701, 8761, 8917, 9265, 9349, 9457,
         9865]
s6521 = [13, 205, 361, 457, 481, 913, 1393, 1633, 2005, 2053, 2149, 2365, 2485, 2509, 3547, 3715, 3847, 3907, 4303,
         4447, 4843, 4951, 5119, 5179, 5467, 5599, 5875, 5947, 6199, 6259, 6655, 6679, 6693, 6769, 7021, 7405, 7561,
         7765, 8617, 8713, 8857, 8965, 9301, 9361, 9433, 9601]
s6520 = [217, 301, 625, 637, 1021, 1369, 1393, 1489, 1597, 2545, 2617, 2893, 3175, 4015, 4339, 4471, 5323, 5599, 5623,
         5815, 6091, 6283, 6463, 6769, 6961, 7033, 7201, 8437, 8845, 8965, 9181, 9217, 9301, 9613]
s6519 = [241, 469, 1093, 2377, 2785, 3061, 3223, 3235, 5131, 5899, 5971, 6079, 6247, 7189, 7393, 7573, 7597, 8497, 8749,
         9421]
s6518 = [1033, 1369, 1405, 1477, 1597, 1969, 2605, 4387, 4579, 4999, 5755, 7705, 8509, 8761]
s6517 = [421, 1105, 1357, 1429, 1537, 2773, 2941, 3619, 4483, 5239, 6805, 7897, 7957, 8245, 8329, 8569, 9445]
s6516 = [157, 601, 2785, 2953, 4351, 6559, 7069, 8677, 8905, 9529, 9697]
s6515 = [301, 1153, 1237, 4267, 4855, 6559, 7453, 7621, 8605, 9037, 9793]
s6514 = [2401, 7489, 8269, 9325]
s6513 = [1681, 5371]
s6512 = [337, 2593, 4747, 5311, 8149, 8665, 8929]
s6511 = [1249, 5995]
s6510 = [5071, 5995]
s6509 = [5275]
s6508 = [8137]
s6507 = [3631, 5203]

levels = {6567: s6567, 6566: s6566, 6564: s6564, 6563: s6563, 6562: s6562, 6561: s6561, 6560: s6560, 6559: s6559,
          6558: s6558, 6557: s6557, 6556: s6556, 6555: s6555, 6554: s6554, 6553: s6553, 6552: s6552, 6551: s6551,
          6550: s6550, 6549: s6549, 6548: s6548, 6547: s6547, 6546: s6546, 6545: s6545, 6544: s6544, 6543: s6543,
          6542: s6542, 6541: s6541, 6540: s6540, 6539: s6539, 6538: s6538, 6537: s6537, 6536: s6536, 6535: s6535,
          6534: s6534, 6533: s6533, 6532: s6532, 6531: s6531, 6530: s6530, 6529: s6529, 6528: s6528, 6527: s6527,
          6526: s6526, 6525: s6525, 6524: s6524, 6523: s6523, 6522: s6522, 6521: s6521, 6520: s6520, 6519: s6519,
          6518: s6518, 6517: s6517, 6516: s6516, 6515: s6515, 6514: s6514, 6513: s6513, 6512: s6512, 6511: s6511,
          6510: s6510, 6509: s6509, 6508: s6508, 6507: s6507}

x = []
y = []
for code, samples in levels.items():
    x += samples
    y += [code] * len(samples)

fig, ax = plt.subplots(figsize=(10, 10))
ax.plot(x, y, 'k.', label='Samples\n$\\mu$ = 6538.25, $\\sigma$ = 8.18')
ax.set_xlabel('Sample #')
ax.set_ylabel('ADC Counts')
ax.set_title('Run 528, channel061, Pedestal')
ax.grid(True)
ax.legend(loc='upper right')
ax.set_xlim(-483, 10343)
fig.subplots_adjust(left=0.0805, right=0.985, top=0.964, bottom=0.058)
fig.savefig('out.png', dpi=100)
